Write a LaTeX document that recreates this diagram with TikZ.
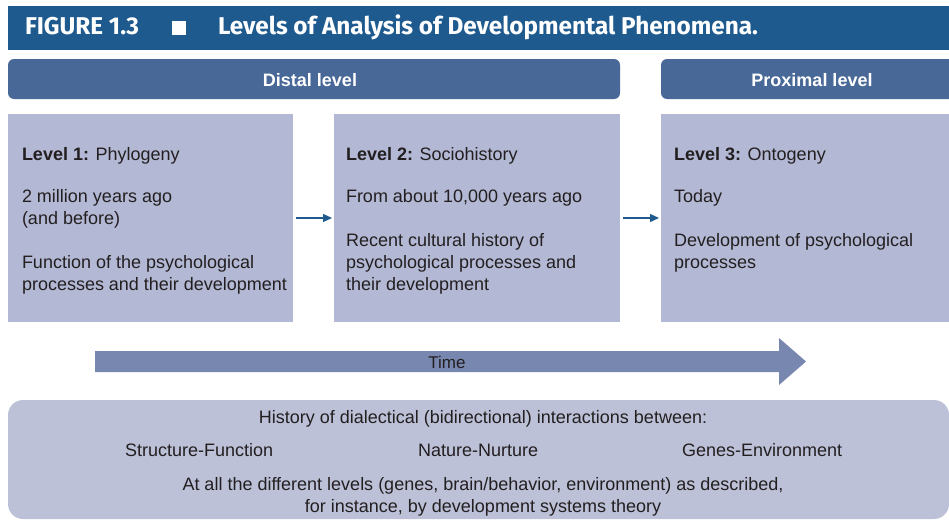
\documentclass[tikz,border=0pt]{standalone}
\usepackage{fontspec}
\setmainfont{Liberation Sans}
\newfontfamily\titlefont{Fira Sans}
\usetikzlibrary{arrows.meta}
\definecolor{titleblue}{HTML}{1F5A8F}
\definecolor{levelblue}{HTML}{486898}
\definecolor{boxfill}{HTML}{B3B8D4}
\definecolor{timefill}{HTML}{7887B0}
\definecolor{bottomfill}{HTML}{BCC1D8}
\definecolor{txt}{HTML}{231F20}
\tikzset{
  every node/.style={inner sep=0pt, outer sep=0pt},
  bodytxt/.style={anchor=base west, text=txt, font=\fontsize{18}{22}\selectfont},
  ctrtxt/.style={anchor=base, text=txt, font=\fontsize{18}{22}\selectfont},
  leveltxt/.style={anchor=base, text=white, font=\fontsize{18}{22}\selectfont\bfseries},
  titletxt/.style={anchor=base west, text=white, font=\titlefont\fontsize{24.3}{27}\selectfont\bfseries},
  panel/.style={fill=boxfill, draw=none},
  link/.style={draw=titleblue, line width=1.3pt, -{Triangle[length=9pt,width=8pt]}, shorten <=3pt, shorten >=2pt}
}
\begin{document}
\begin{tikzpicture}[x=1pt,y=-1pt]
\useasboundingbox (0,0) rectangle (949,519);
% title bar
\fill[titleblue] (8,6) rectangle (949,50);
\node[titletxt] (fig) at (25,35) {FIGURE 1.3};
\fill[white] (172,21) rectangle (186,35);
\node[titletxt] (title) at (218,35) {Levels of Analysis of Developmental Phenomena.};
% level bars
\fill[levelblue, rounded corners=6pt] (8,59) rectangle (620,99);
\node[leveltxt] (distal) at (310,86) {Distal level};
\fill[levelblue, rounded corners=6pt] (661,59) rectangle (964,99);
\node[leveltxt] (proximal) at (812,86) {Proximal level};
% boxes
\node[panel, anchor=north west, minimum width=285pt, minimum height=208pt] (b1) at (8,114) {};
\node[panel, anchor=north west, minimum width=286pt, minimum height=208pt] (b2) at (334,114) {};
\node[panel, anchor=north west, minimum width=290pt, minimum height=208pt] (b3) at (661,114) {};
\node[bodytxt] (t1) at (22,160) {\parbox[t]{265pt}{\textbf{Level 1:} Phylogeny\\[20pt]2 million years ago\\(and before)\\[22pt]Function of the psychological\\processes and their development}};
\node[bodytxt] (t2) at (346,160) {\parbox[t]{265pt}{\textbf{Level 2:} Sociohistory\\[20pt]From about 10,000 years ago\\[22pt]Recent cultural history of\\psychological processes and\\their development}};
\node[bodytxt] (t3) at (674,160) {\parbox[t]{265pt}{\textbf{Level 3:} Ontogeny\\[20pt]Today\\[22pt]Development of psychological\\processes}};
\draw[link] (b1.east) -- (b2.west);
\draw[link] (b2.east) -- (b3.west);
% time arrow
\fill[timefill] (95,351) -- (779,351) -- (779,338) -- (806,361.5) -- (779,385) -- (779,372) -- (95,372) -- cycle;
\node[ctrtxt, font=\fontsize{17}{20}\selectfont] (time) at (447,368) {Time};
% bottom box
\fill[bottomfill, rounded corners=15pt] (8,400) rectangle (949,519);
\node[ctrtxt] (hist) at (483,423) {History of dialectical (bidirectional) interactions between:};
\node[bodytxt] (sf) at (125,456) {Structure-Function};
\node[bodytxt] (nn) at (418,456) {Nature-Nurture};
\node[bodytxt] (ge) at (682,456) {Genes-Environment};
\node[ctrtxt] (all1) at (483,490) {At all the different levels (genes, brain/behavior, environment) as described,};
\node[ctrtxt] (all2) at (483,512) {for instance, by development systems theory};
\end{tikzpicture}
\end{document}
